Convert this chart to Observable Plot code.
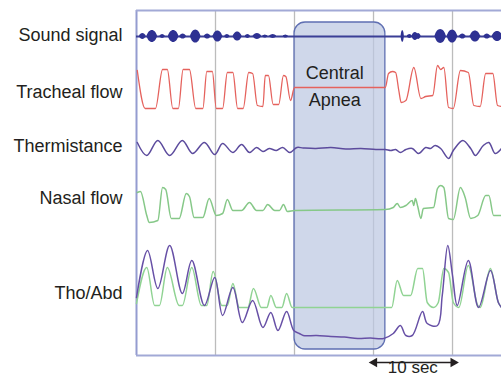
<!DOCTYPE html>
<html>
<head>
<meta charset="utf-8">
<script src="https://cdn.jsdelivr.net/npm/d3@7"></script>
<script src="https://cdn.jsdelivr.net/npm/@observablehq/plot@0.6"></script>
<style>
  html, body { margin: 0; padding: 0; background: #fff; }
  #chart svg { display: block; }
</style>
</head>
<body>
<div id="chart"></div>
<script>
// ---- time axis (seconds) ----
const timeMax = 46.2;
const gridSeconds = [10, 20, 30, 40];

// ---- channels ----
const channelNames = ["Sound signal", "Tracheal flow", "Thermistance", "Nasal flow", "Tho/Abd"];
const channelLevel = [320, 263, 209, 157, 62];

// ---- sound signal: baseline level and breath bursts (time s, half-amplitude, width s) ----
const soundLevel = 319;
const soundBurstTime = [0.8, 2.0, 3.3, 4.7, 5.9, 7.5, 9.0, 10.3, 11.5, 12.8, 14.1, 15.3, 16.3, 17.3, 18.9,
                        33.7, 34.6, 35.3, 35.7, 38.5, 40.0, 41.3, 42.9, 44.4, 45.7];
const soundBurstAmp  = [3, 6, 2, 6, 2.5, 6.5, 2.5, 5.5, 2, 4.5, 2, 3, 1.5, 2, 1.5,
                        6, 2, 4, 3, 7, 6.5, 2.5, 5.5, 2.5, 5];
const soundBurstWidth = [0.8, 1.3, 0.6, 1.3, 0.8, 1.3, 0.8, 1.2, 0.6, 1.1, 0.6, 1.0, 0.6, 0.8, 0.6,
                         0.4, 0.6, 0.8, 0.6, 1.4, 1.3, 0.8, 1.3, 0.8, 1.3];

// ---- tracheal flow [time s, value] ----
const trachealFlow = [[0.1,285],[1.1,247],[2.4,247],[3.3,286],[3.9,286],[4.6,247],[5.3,247],[5.9,286],[6.7,286],
  [7.5,247],[8.4,247],[8.9,284],[9.6,284],[10.1,247],[10.9,247],[11.5,283],[12.2,283],[12.8,247],[13.5,247],
  [14.2,283],[14.7,282],[15.3,250],[16.0,249],[16.3,280],[16.7,280],[17.3,251],[18.0,251],[18.6,280],[18.9,279],
  [19.5,255],[20.0,268],[31.5,268],[31.9,282],[32.4,284],[32.8,283],[33.2,265],[33.5,253],[34.1,255],[35.1,288],
  [36.0,257],[36.6,259],[37.5,260],[38.1,290],[38.5,286],[38.9,288],[39.5,248],[40.1,247],[41.0,285],[42.0,283],
  [42.7,250],[43.5,249],[44.2,282],[45.1,282],[45.7,250],[46.2,249]];

// ---- thermistance ----
const thermistance = [[0.1,213],[1.3,200],[2.7,215],[4.2,200],[5.8,215],[7.1,202],[8.6,213],[9.9,201],[10.9,212],
  [12.2,203],[13.3,211],[14.3,203],[15.2,208],[16.0,204],[16.8,207],[17.7,205],[18.5,208],[19.4,203],[20.3,208],
  [21.1,207.5],[22.7,207],[24.6,208],[26.5,206.5],[28.4,207],[30.3,206],[31.5,206],[32.2,205],[32.8,206],[33.4,203],
  [34.1,206],[34.9,207],[35.7,202],[36.6,208],[37.2,207],[37.8,210],[38.5,207],[39.5,197],[40.1,205],[41.3,215],
  [42.3,207],[42.9,200],[43.9,210],[44.6,213],[45.4,202],[46.2,207]];

// ---- nasal flow ----
const nasalFlow = [[0.1,163],[0.5,164],[1.3,140],[1.6,133],[2.7,135],[3.3,168],[3.7,166],[4.4,137],[5.4,137],
  [6.3,162],[6.7,159],[7.3,138],[8.4,138],[9.2,157],[10.1,140],[10.9,142],[11.5,156],[12.2,145],[13.3,145],
  [14.3,153],[15.2,145],[16.0,145],[16.6,151],[17.5,145],[18.1,145],[18.6,151],[19.1,144],[20.0,145],[31.5,146],
  [32.5,148],[33.0,152],[33.4,148],[34.1,150],[34.9,155],[35.1,150],[35.3,157],[35.6,149],[36.0,137],[36.3,147],
  [37.6,148],[38.1,167],[38.5,170],[38.9,168],[39.5,137],[40.1,136],[41.0,168],[41.6,158],[42.3,137],[43.2,140],
  [44.2,160],[44.6,160],[45.2,140],[46.2,140]];

// ---- thoracic (purple) and abdominal (green) effort ----
const thoracic = [[0.0,58],[1.4,105],[2.7,67],[4.2,110],[5.8,62],[7.0,95],[8.6,50],[9.9,78],[10.9,40],[12.2,68],
  [13.4,33],[14.7,55],[16.0,28],[17.0,43],[17.9,25],[19.0,44],[19.9,25],[20.6,22],[21.1,20],[22.8,20],[24.6,19],
  [26.3,18.5],[28.0,17],[29.6,17.5],[31.3,17],[32.5,22],[33.4,30],[34.1,20],[34.9,20],[36.2,44],[36.8,32],[38.1,30],
  [38.7,60],[39.4,110],[40.0,80],[40.6,50],[42.0,95],[43.3,48],[44.8,85],[45.8,53],[46.2,48]];
const abdominal = [[0.0,52],[1.3,88],[2.3,50],[2.9,50],[3.9,88],[5.4,50],[5.8,50],[7.0,88],[8.2,50],[8.9,50],
  [9.7,84],[10.8,50],[11.5,50],[12.2,72],[13.0,48],[14.1,48],[14.8,67],[15.8,48],[16.5,48],[17.0,60],[17.7,48],
  [18.4,48],[19.0,62],[19.7,48],[31.5,48],[32.3,48],[33.0,75],[33.8,60],[34.7,60],[35.6,87],[36.2,87],[36.8,53],
  [37.6,48],[38.2,53],[38.9,87],[39.5,83],[40.1,53],[40.8,48],[42.0,90],[43.2,50],[43.5,48],[44.8,87],[45.8,53],
  [46.2,48]];

// ---- annotations ----
const apneaSpan = [20, 31.5];
const apneaLevels = [6, 333];
const apneaText = ["Central", "Apnea"];
const apneaTextLevel = [282, 255];
const apneaTextTime = 25.1;
const scaleBarSpan = [30.1, 40.1];
const scaleBarLevel = -7;
const scaleBarText = "10 sec";
const scaleBarTextLevel = -12.5;

// build sound burst envelope rows from the burst table
const soundRows = [];
soundBurstTime.forEach((t, i) => {
  const a = soundBurstAmp[i], w = soundBurstWidth[i];
  [[-0.5, 0], [-0.3, 0.75], [0, 1], [0.3, 0.75], [0.5, 0]].forEach(([f, k]) => {
    soundRows.push({burst: i, t: t + f * w, amp: k === 0 ? 0.8 : a * k});
  });
});

const toRows = arr => arr.map(([t, v]) => ({t, v}));
const font = "'Liberation Sans', Arial, Helvetica, sans-serif";

const chart = Plot.plot({
  width: 501,
  height: 378,
  marginLeft: 136,
  marginRight: 0,
  marginTop: 10,
  marginBottom: 23,
  x: {domain: [0, timeMax], axis: null},
  y: {domain: [0, 345], axis: null},
  style: {fontFamily: font, background: "#fff", overflow: "visible"},
  marks: [
    // vertical 10-second grid
    Plot.ruleX(gridSeconds, {y1: 0, y2: 345, stroke: "#bcbcbc", strokeWidth: 1.3}),
    // apnea box
    Plot.rect([apneaSpan], {x1: d => d[0], x2: d => d[1], y1: apneaLevels[0], y2: apneaLevels[1],
      fill: "#bcc7e2", fillOpacity: 0.72, stroke: "#5f6fb2", strokeWidth: 1.3, rx: 11}),
    // frame (left, top, bottom)
    Plot.ruleX([0], {y1: 0, y2: 345, stroke: "#949cd0", strokeWidth: 2}),
    Plot.ruleY([0, 345], {x1: 0, x2: timeMax, stroke: "#a2a9d6", strokeWidth: 2}),
    // sound signal
    Plot.ruleY([soundLevel], {x1: 0, x2: timeMax, stroke: "#3b3f96", strokeWidth: 1.8}),
    Plot.areaY(soundRows, {x: "t", y1: d => soundLevel - d.amp, y2: d => soundLevel + d.amp, z: "burst",
      fill: "#2e3192", curve: "catmull-rom"}),
    // traces
    Plot.line(toRows(trachealFlow), {x: "t", y: "v", stroke: "#e5625d", strokeWidth: 1.3, curve: "monotone-x"}),
    Plot.line(toRows(thermistance), {x: "t", y: "v", stroke: "#5c4b9d", strokeWidth: 1.5, curve: "catmull-rom"}),
    Plot.line(toRows(nasalFlow), {x: "t", y: "v", stroke: "#86c888", strokeWidth: 1.5, curve: "monotone-x"}),
    Plot.line(toRows(abdominal), {x: "t", y: "v", stroke: "#90d393", strokeWidth: 1.5, curve: "monotone-x"}),
    Plot.line(toRows(thoracic), {x: "t", y: "v", stroke: "#6750a6", strokeWidth: 1.5, curve: "catmull-rom"}),
    // channel labels
    Plot.text(channelNames, {x: 0, y: (d, i) => channelLevel[i], text: d => d, textAnchor: "end", dx: -14,
      fontSize: 18, fill: "#231f20"}),
    // apnea label
    Plot.text(apneaText, {x: apneaTextTime, y: (d, i) => apneaTextLevel[i], text: d => d, fontSize: 18, fill: "#231f20"}),
    // 10 sec scale bar
    Plot.ruleY([scaleBarLevel], {x1: scaleBarSpan[0], x2: scaleBarSpan[1], stroke: "#231f20", strokeWidth: 1.5}),
    Plot.dot(scaleBarSpan, {x: d => d, y: scaleBarLevel, symbol: "triangle", r: 3.6, fill: "#231f20",
      rotate: (d, i) => i === 0 ? -90 : 90}),
    Plot.text([scaleBarText], {x: d3.mean(scaleBarSpan), y: scaleBarTextLevel, text: d => d, fontSize: 17,
      fill: "#231f20", dx: -1})
  ]
});
document.getElementById("chart").appendChild(chart);
</script>
</body>
</html>
